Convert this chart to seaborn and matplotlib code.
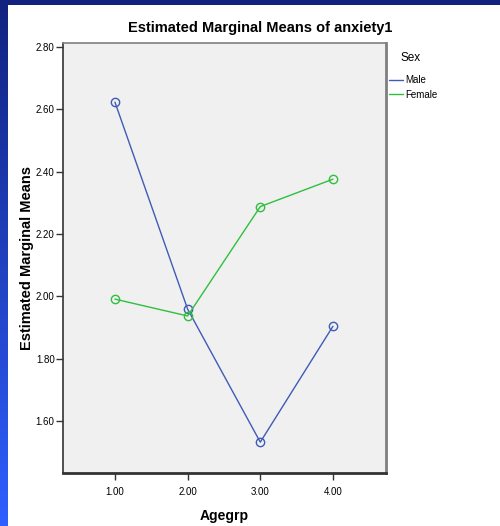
import numpy as np
import matplotlib
matplotlib.use("Agg")
import matplotlib.pyplot as plt
import pandas as pd
import seaborn as sns

agegrp = [1.0, 2.0, 3.0, 4.0]
male_means = [2.623, 1.959, 1.532, 1.904]
female_means = [1.991, 1.937, 2.288, 2.376]
sex_levels = ["Male", "Female"]
y_ticks = [1.6, 1.8, 2.0, 2.2, 2.4, 2.6, 2.8]

df = pd.DataFrame({
    "Agegrp": agegrp * 2,
    "mean": male_means + female_means,
    "Sex": ["Male"] * 4 + ["Female"] * 4,
})

sns.set_style("white")
plt.rcParams["font.family"] = ["Liberation Sans", "DejaVu Sans"]
plt.rcParams["text.color"] = "black"
plt.rcParams["axes.labelcolor"] = "black"
plt.rcParams["xtick.color"] = "black"
plt.rcParams["ytick.color"] = "black"

fig = plt.figure(figsize=(5, 5.26), dpi=100)
fig.patch.set_facecolor("white")

# blue slide decoration: left gradient strip and top band
grad = fig.add_axes([0, 0, 8 / 500, 1])
grad.imshow(np.linspace(0, 1, 256).reshape(-1, 1), aspect="auto",
            cmap=matplotlib.colors.LinearSegmentedColormap.from_list("b", ["#11237f", "#2f5fff"]),
            extent=[0, 1, 0, 1], origin="upper")
grad.axis("off")
band = fig.add_axes([0, 1 - 5 / 526, 1, 5 / 526])
band.set_facecolor("#12237f")
band.set_xticks([]); band.set_yticks([])
for s in band.spines.values():
    s.set_visible(False)

ax = fig.add_axes([63 / 500, 1 - 473 / 526, 323 / 500, 430 / 526])
ax.set_facecolor("#f0f0f0")
palette = {"Male": "#3f5bb5", "Female": "#2fbf3f"}
sns.lineplot(data=df, x="Agegrp", y="mean", hue="Sex", hue_order=sex_levels,
             palette=palette, marker="o", markersize=6, markerfacecolor="none",
             markeredgewidth=1.0, linewidth=1.0, ax=ax, legend=False)
# open circle edges in series colours
for line, c in zip(ax.get_lines(), [palette[s] for s in sex_levels]):
    line.set_markeredgecolor(c)

ax.set_xlim(0.285, 4.73)
ax.set_ylim(1.433, 2.813)
ax.set_xticks(agegrp)
ax.set_xticklabels([f"{v:.2f}" for v in agegrp], fontsize=7)
ax.set_yticks(y_ticks)
ax.set_yticklabels([f"{v:.2f}" for v in y_ticks], fontsize=7)
ax.tick_params(bottom=True, left=True, direction="out", length=5, width=1,
               color="#333333", pad=1)
ax.tick_params(axis="x", pad=5)

ax.spines["left"].set_color("#333333")
ax.spines["bottom"].set_color("#333333")
ax.spines["bottom"].set_linewidth(2)
ax.spines["left"].set_linewidth(1.2)
ax.spines["right"].set_color("#7f7f7f")
ax.spines["right"].set_linewidth(2)
ax.spines["top"].set_color("#7f7f7f")
ax.spines["top"].set_linewidth(1.2)

ax.set_xlabel("Agegrp", fontsize=10, fontweight="bold", labelpad=9)
ax.set_ylabel("Estimated Marginal Means", fontsize=10.5, fontweight="bold",
              labelpad=1)
ax.set_title("Estimated Marginal Means of anxiety1", fontsize=10.5,
             fontweight="bold", pad=8, x=0.61)

handles = [matplotlib.lines.Line2D([], [], color=palette[s], lw=1) for s in sex_levels]
leg = ax.legend(handles, sex_levels, title="Sex", loc="upper left",
                bbox_to_anchor=(1.0, 0.985), frameon=False, fontsize=7,
                title_fontsize=8.5, handlelength=1.4, handletextpad=0.3,
                labelspacing=0.45, borderaxespad=0.1, borderpad=0.2)
leg._legend_box.align = "left"
leg._legend_box.sep = 8
leg.get_title().set_position((12, 0))

fig.savefig("out.png", dpi=100)
